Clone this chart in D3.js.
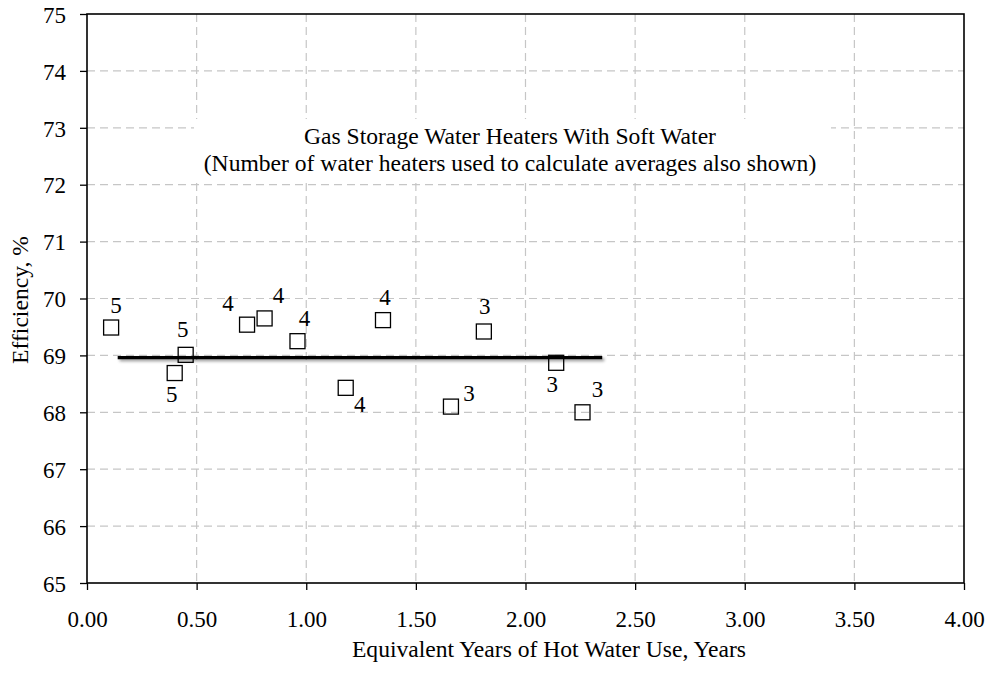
<!DOCTYPE html>
<html>
<head>
<meta charset="utf-8">
<script src="https://cdn.jsdelivr.net/npm/d3@7"></script>
<style>
  body { margin: 0; background: #fff; }
  text { font-family: "Liberation Serif", "Times New Roman", serif; fill: #000; }
</style>
</head>
<body>
<div id="chart"></div>
<script>
// data
var years = [0.11, 0.45, 0.40, 0.73, 0.81, 0.96, 1.18, 1.35, 1.81, 1.66, 2.14, 2.26];
var efficiency = [69.49, 69.01, 68.69, 69.54, 69.65, 69.25, 68.43, 69.62, 69.42, 68.10, 68.87, 68.00];
var heaterCount = [5, 5, 5, 4, 4, 4, 4, 4, 3, 3, 3, 3];

// average line
var avgYears = [0.14, 2.35];
var avgEfficiency = 68.96;

var xTicks = [0, 0.5, 1, 1.5, 2, 2.5, 3, 3.5, 4];
var yTicks = [65, 66, 67, 68, 69, 70, 71, 72, 73, 74, 75];

var titleLines = ["Gas Storage Water Heaters With Soft Water",
  "(Number of water heaters used to calculate averages also shown)"];

// label placement relative to each marker (dx, baseline dy)
var labelOffsets = [[5, -15], [-3, -18], [-3, 29], [-19, -14], [14, -15], [7, -15],
  [14, 24], [2, -15], [1, -18], [18, -6], [-4, 29], [15, -15]];

//setup
var width = 987, height = 673;
var plotLeft = 87, plotRight = 964, plotTop = 14, plotBottom = 583;

var svg = d3.select('#chart')
  .append('svg')
  .attr('width', width)
  .attr('height', height);

var x = d3.scaleLinear().domain([0, 4]).range([plotLeft, plotRight]);
var y = d3.scaleLinear().domain([65, 75]).range([plotBottom, plotTop]);

// shadow for the average line (user space, the line has no height)
var defs = svg.append('defs');
defs.append('filter')
  .attr('id', 'shadow')
  .attr('filterUnits', 'userSpaceOnUse')
  .attr('x', 0).attr('y', 0)
  .attr('width', width).attr('height', height)
  .append('feDropShadow')
  .attr('dx', 2).attr('dy', 2)
  .attr('stdDeviation', 1.5)
  .attr('flood-color', '#000')
  .attr('flood-opacity', 0.4);

//gridlines
svg.append('g')
  .selectAll('line')
  .data(yTicks.slice(1, -1))
  .enter()
  .append('line')
  .attr('x1', plotLeft).attr('x2', plotRight)
  .attr('y1', d => y(d)).attr('y2', d => y(d))
  .attr('stroke', '#c6c6c6')
  .attr('stroke-width', 1.2)
  .attr('stroke-dasharray', '8,5');

svg.append('g')
  .selectAll('line')
  .data(xTicks.slice(1, -1))
  .enter()
  .append('line')
  .attr('x1', d => x(d)).attr('x2', d => x(d))
  .attr('y1', plotTop).attr('y2', plotBottom)
  .attr('stroke', '#c6c6c6')
  .attr('stroke-width', 1.2)
  .attr('stroke-dasharray', '8,5');

// title box covers the grid
svg.append('rect')
  .attr('x', 194).attr('y', 119)
  .attr('width', 637).attr('height', 63)
  .attr('fill', '#fff');

svg.append('g')
  .selectAll('text')
  .data(titleLines)
  .enter()
  .append('text')
  .attr('x', 510)
  .attr('y', (d, i) => 144 + i * 26.5)
  .attr('text-anchor', 'middle')
  .style('font-size', '23.6px')
  .text(d => d);

//axes
var xAxis = d3.axisBottom(x)
  .tickValues(xTicks)
  .tickFormat(d3.format('.2f'))
  .tickSize(7)
  .tickSizeOuter(0);

var yAxis = d3.axisLeft(y)
  .tickValues(yTicks)
  .tickFormat(d3.format('d'))
  .tickSize(7)
  .tickSizeOuter(0);

var gx = svg.append('g')
  .attr('transform', 'translate(0,' + plotBottom + ')')
  .call(xAxis);
gx.select('.domain').remove();
gx.selectAll('line').attr('stroke', '#000').attr('stroke-width', 1.3);
gx.selectAll('text')
  .attr('y', 44)
  .attr('dy', null)
  .style('font-size', '23px');

var gy = svg.append('g')
  .attr('transform', 'translate(' + plotLeft + ',0)')
  .call(yAxis);
gy.select('.domain').remove();
gy.selectAll('line').attr('stroke', '#000').attr('stroke-width', 1.3);
gy.selectAll('text')
  .attr('x', -21)
  .attr('dy', '0.36em')
  .style('font-size', '23px');

// plot border
svg.append('rect')
  .attr('x', plotLeft).attr('y', plotTop)
  .attr('width', plotRight - plotLeft).attr('height', plotBottom - plotTop)
  .attr('fill', 'none')
  .attr('stroke', '#000')
  .attr('stroke-width', 1.6);

//average line
svg.append('line')
  .attr('x1', x(avgYears[0])).attr('x2', x(avgYears[1]))
  .attr('y1', y(avgEfficiency)).attr('y2', y(avgEfficiency))
  .attr('stroke', '#000')
  .attr('stroke-width', 3.2)
  .attr('filter', 'url(#shadow)');

//markers
var points = years.map(function(d, i) {
  return {x: d, y: efficiency[i], n: heaterCount[i], off: labelOffsets[i]};
});

svg.append('g')
  .selectAll('rect')
  .data(points)
  .enter()
  .append('rect')
  .attr('x', d => x(d.x) - 7.5)
  .attr('y', d => y(d.y) - 7.5)
  .attr('width', 15)
  .attr('height', 15)
  .attr('fill', 'none')
  .attr('stroke', '#000')
  .attr('stroke-width', 1.3);

svg.append('g')
  .selectAll('text')
  .data(points)
  .enter()
  .append('text')
  .attr('x', d => x(d.x) + d.off[0])
  .attr('y', d => y(d.y) + d.off[1])
  .attr('text-anchor', 'middle')
  .style('font-size', '23px')
  .text(d => d.n);

//axis titles
svg.append('text')
  .attr('x', 549)
  .attr('y', 657)
  .attr('text-anchor', 'middle')
  .style('font-size', '23.6px')
  .text('Equivalent Years of Hot Water Use, Years');

svg.append('text')
  .attr('transform', 'translate(28,300) rotate(-90)')
  .attr('text-anchor', 'middle')
  .style('font-size', '23.6px')
  .text('Efficiency, %');
</script>
</body>
</html>
